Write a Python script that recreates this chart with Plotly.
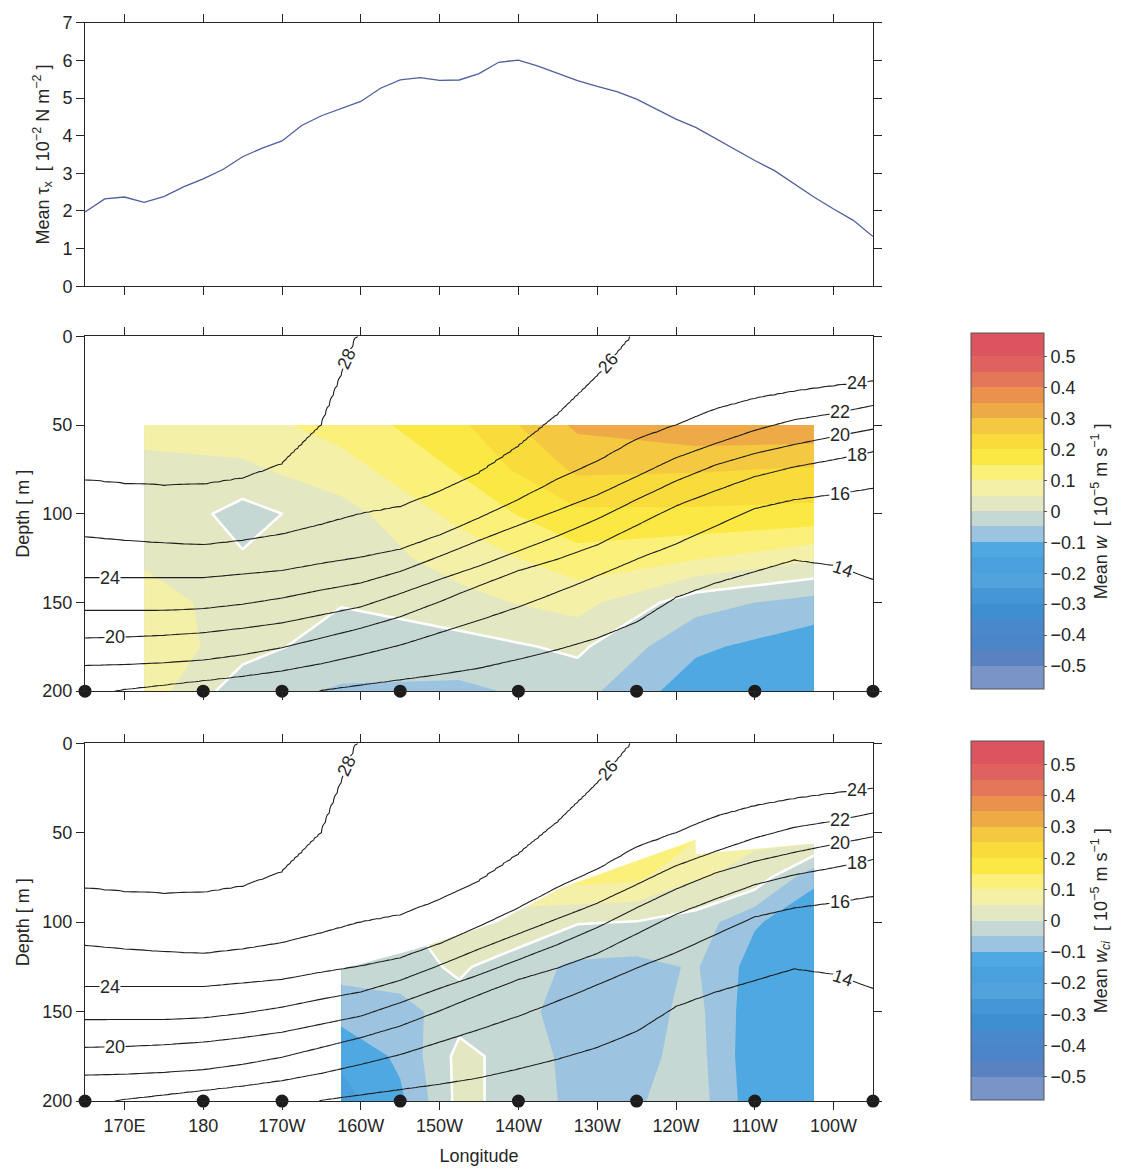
import numpy as np
import plotly.graph_objects as go

FONT = "Liberation Sans, Arial, Helvetica, sans-serif"
INK = "#262626"
nan = np.nan

# ---------------------------------------------------------------------------
# Mean zonal wind stress along the equator (10^-2 N m^-2), every 2.5 degrees
# ---------------------------------------------------------------------------
stress_lon = np.arange(165.0, 265.1, 2.5)
stress_tau = [1.97, 2.32, 2.37, 2.23, 2.38, 2.64, 2.85, 3.10, 3.44, 3.67,
              3.86, 4.27, 4.53, 4.72, 4.91, 5.26, 5.48, 5.54, 5.47, 5.48,
              5.65, 5.95, 6.01, 5.85, 5.66, 5.46, 5.31, 5.17, 4.97, 4.70,
              4.44, 4.22, 3.92, 3.62, 3.34, 3.07, 2.72, 2.37, 2.05, 1.75,
              1.32]

# TAO mooring longitudes (degrees east)
mooring_lon = [165, 180, 190, 205, 220, 235, 250, 265]

# ---------------------------------------------------------------------------
# Mean temperature section: isotherm depths (m) every 5 degrees
# (nan = isotherm absent from the 0-200 m column)
# ---------------------------------------------------------------------------
temp_lon = [165, 170, 175, 180, 185, 190, 195, 200, 205, 210, 215,
            220, 225, 230, 235, 240, 245, 250, 255, 260, 265]
surface_temp = [29.0, 29.0, 29.0, 28.9, 28.8, 28.6, 28.4, 27.9, 27.6, 27.3, 27.0,
                26.8, 26.6, 26.3, 25.9, 25.5, 25.3, 25.1, 24.9, 24.7, 24.5]
temp_200m = [16.3, 15.9, 15.7, 15.5, 15.3, 14.9, 13.95, 13.7, 13.6, 13.5, 13.3,
             13.2, 13.0, 12.8, 12.6, 12.4, 12.3, 12.2, 12.2, 12.2, 12.3]
iso28_depth = [81, 83, 84, 83.5, 80, 72, 50, nan, nan, nan, nan,
               nan, nan, nan, nan, nan, nan, nan, nan, nan, nan]
iso26_depth = [113, 115, 116.5, 117.5, 115, 111.5, 106, 100, 96, 87.5, 77,
               62, 44, 22.5, nan, nan, nan, nan, nan, nan, nan]
iso24_depth = [136, 136, 136, 136, 134, 132, 128, 124.5, 120, 112, 102.5,
               92, 80.5, 70.5, 58, 50, 41, 35, 31, 28, 25.5]
iso22_depth = [154.5, 154.5, 154.5, 153.5, 151, 147.5, 143, 139, 132.5, 124, 115,
               106.5, 98, 89.5, 79, 68.5, 60.5, 53, 47, 43.5, 39]
iso20_depth = [170, 169.5, 168.5, 167, 164.5, 161.5, 157, 152.5, 145, 137, 129.5,
               121, 112.5, 103, 92, 81.5, 72.5, 66, 61, 56.5, 52.3]
iso18_depth = [185.5, 185, 184, 182.5, 179.5, 175.5, 170, 164.5, 158, 149.5, 140.5,
               132, 125.5, 117.5, 106.5, 95.5, 87, 79, 73.5, 69.5, 65]
iso16_depth = [nan, 199, 196.5, 194, 191.5, 188.5, 184.5, 179.5, 174, 167, 160,
               152.5, 144, 135, 125.5, 117, 107, 97, 92, 89, 85.5]
iso14_depth = [nan, nan, nan, nan, nan, nan, 199.5, 196.5, 193.5, 190.5, 187,
               182, 176.5, 170, 161, 147, 139, 132.5, 126, 129, 137]
iso_levels = [28, 26, 24, 22, 20, 18, 16, 14]
iso_depths = [iso28_depth, iso26_depth, iso24_depth, iso22_depth,
              iso20_depth, iso18_depth, iso16_depth, iso14_depth]

# ---------------------------------------------------------------------------
# Mean vertical velocity w (10^-5 m/s) between moorings, rows = depth
# ---------------------------------------------------------------------------
w_lon = [172.5, 185, 197.5, 212.5, 227.5, 242.5, 257.5]
w_depth = [50, 75, 100, 125, 150, 175, 200]
w_mean = [
    [0.075, 0.08, 0.12, 0.19, 0.31, 0.34, 0.34],
    [0.03, 0.04, 0.08, 0.155, 0.26, 0.255, 0.245],
    [0.045, -0.02, 0.03, 0.115, 0.19, 0.19, 0.185],
    [0.04, 0.005, 0.02, 0.07, 0.13, 0.105, 0.06],
    [0.08, 0.02, 0.003, 0.035, 0.07, -0.03, -0.07],
    [0.09, 0.02, -0.025, -0.02, 0.01, -0.09, -0.13],
    [0.08, -0.03, -0.055, -0.06, -0.03, -0.13, -0.148],
]

# Mean w_ci (10^-5 m/s), rows = depth
wci_lon = [197.5, 205, 212.5, 220, 227.5, 235, 242.5, 250, 257.5]
wci_depth = [50, 75, 100, 125, 150, 175, 200]
wci_mean = [
    [-0.03, -0.01, 0.04, 0.08, 0.14, 0.14, 0.11, 0.06, 0.095],
    [-0.03, -0.01, 0.035, 0.07, 0.12, 0.11, 0.055, 0.035, -0.09],
    [-0.03, -0.005, 0.025, 0.04, 0.003, -0.002, -0.02, -0.095, -0.13],
    [-0.03, -0.02, 0.008, -0.03, -0.06, -0.065, -0.045, -0.12, -0.13],
    [-0.08, -0.07, -0.02, -0.035, -0.075, -0.07, -0.035, -0.13, -0.13],
    [-0.14, -0.09, 0.015, -0.02, -0.07, -0.065, -0.03, -0.135, -0.13],
    [-0.17, -0.11, 0.015, -0.02, -0.065, -0.055, -0.025, -0.13, -0.12],
]
# upper limit (m) of the depth range where w_ci is defined
wci_top_lon = [197.5, 207.0, 217.3, 225.3, 242.5, 242.5, 257.5]
wci_top_depth = [128, 115, 100, 81, 54, 62, 56]

# colour table, one colour per 0.05 band from -0.55 to 0.55
band_colors = [
    "#7a94c8", "#5a82c0", "#4c84c8", "#4a88cc", "#3e8ed2", "#4496d6",
    "#52a2dc", "#4aa0dc", "#4ea8e2", "#9cc4e0", "#c5d8d3", "#e3e8c3",
    "#f4f0a8", "#faf07a", "#fce842", "#f9dc3c", "#f4c840", "#eeaa46",
    "#ea924c", "#e4765a", "#e0625e", "#db5460",
]


# ---------------------------------------------------------------------------
# temperature field, interpolated along isotherms between stations
# ---------------------------------------------------------------------------
def station_profile(j):
    zs, ts = [], []
    for lev, dep in zip(iso_levels, iso_depths):
        if np.isfinite(dep[j]):
            zs.append(dep[j])
            ts.append(lev)
    return zs, ts


def extended_depth(j, level):
    """Depth of an isotherm that lies outside 0-200 m at station j."""
    zs, ts = station_profile(j)
    if level > surface_temp[j]:
        z1, t1 = (zs[0], ts[0]) if zs else (200.0, temp_200m[j])
        grad = (surface_temp[j] - t1) / z1
        return -(level - surface_temp[j]) / grad
    z1, t1 = (zs[-1], ts[-1]) if zs else (0.0, surface_temp[j])
    grad = (t1 - temp_200m[j]) / (200.0 - z1)
    return 200.0 + (temp_200m[j] - level) / grad


fine_lon = np.arange(165.0, 265.01, 0.5)
fine_depth = np.arange(0.0, 200.01, 1.0)
temp_grid = np.empty((fine_depth.size, fine_lon.size))
n_st = len(temp_lon)
for i, lon in enumerate(fine_lon):
    j = min(int(np.searchsorted(temp_lon, lon, side="right")) - 1, n_st - 2)
    f = (lon - temp_lon[j]) / (temp_lon[j + 1] - temp_lon[j])
    sst = surface_temp[j] + f * (surface_temp[j + 1] - surface_temp[j])
    t200 = temp_200m[j] + f * (temp_200m[j + 1] - temp_200m[j])
    zs, ts = [], []
    for lev, dep in zip(iso_levels, iso_depths):
        a, b = dep[j], dep[j + 1]
        if not (np.isfinite(a) or np.isfinite(b)):
            continue
        if not np.isfinite(a):
            a = extended_depth(j, lev)
        if not np.isfinite(b):
            b = extended_depth(j + 1, lev)
        d = a + f * (b - a)
        if 0.0 < d < 200.0:
            zs.append(d)
            ts.append(lev)
    top = max(sst, ts[0] + 0.02) if ts else sst
    bot = min(t200, ts[-1] - 0.02) if ts else t200
    temp_grid[:, i] = np.interp(fine_depth, [0.0] + zs + [200.0], [top] + ts + [bot])


def isotherm_depth_at(level, lon):
    col = np.array([np.interp(lon, fine_lon, temp_grid[k, :])
                    for k in range(fine_depth.size)])
    return float(np.interp(level, col[::-1], fine_depth[::-1]))


lev_lo, lev_hi, lev_step = -0.55, 0.55, 0.05
n_slots = len(band_colors) + 1
colorscale = []
for k, c in enumerate(band_colors):
    lo = 0.0 if k == 0 else (k + 0.5) / n_slots
    hi = 1.0 if k == len(band_colors) - 1 else (k + 1.5) / n_slots
    colorscale += [[lo, c], [hi, c]]

cb_ticks = [0.5, 0.4, 0.3, 0.2, 0.1, 0, -0.1, -0.2, -0.3, -0.4, -0.5]
cb_text = ["0.5", "0.4", "0.3", "0.2", "0.1", "0",
           "\u22120.1", "\u22120.2", "\u22120.3", "\u22120.4", "\u22120.5"]

W = 1131
H = 1172
x_dom = [85 / W, 873 / W]
top_dom = [1 - 281 / H, 1 - 13 / H]
mid_dom = [1 - 693 / H, 1 - 332 / H]
bot_dom = [1 - 1110 / H, 1 - 746 / H]


def w_fill(x, y, z, xa, ya, cb_top, cb_bot, title):
    return go.Contour(
        x=x, y=y, z=z, xaxis=xa, yaxis=ya,
        autocontour=False,
        contours=dict(start=lev_lo, end=lev_hi, size=lev_step,
                      coloring="fill", showlines=False),
        colorscale=colorscale,
        line=dict(width=0, smoothing=0),
        hoverinfo="skip",
        colorbar=dict(
            x=971 / W, xanchor="left", xpad=0,
            y=1 - (cb_top + cb_bot) / 2 / H, yanchor="middle",
            len=(cb_bot - cb_top) / H, lenmode="fraction", ypad=0,
            thickness=73, thicknessmode="pixels",
            outlinecolor="#555555", outlinewidth=1,
            tickvals=cb_ticks, ticktext=cb_text,
            ticks="outside", ticklen=3, tickcolor="#555555",
            tickfont=dict(size=18, family=FONT, color=INK),
            title=dict(text=title, side="right",
                       font=dict(size=18, family=FONT, color=INK)),
        ),
    )


def zero_line(x, y, z, xa, ya):
    return go.Contour(
        x=x, y=y, z=z, xaxis=xa, yaxis=ya, autocontour=False,
        contours=dict(start=0, end=0, size=0.05, coloring="none"),
        line=dict(color="white", width=2.5, smoothing=0),
        showscale=False, hoverinfo="skip",
    )


def isotherms(xa, ya):
    return go.Contour(
        x=fine_lon, y=fine_depth, z=temp_grid, xaxis=xa, yaxis=ya,
        autocontour=False,
        contours=dict(start=14, end=28, size=2, coloring="none"),
        line=dict(color="#1e1e1e", width=1.1, smoothing=0),
        showscale=False, hoverinfo="skip",
    )


def moorings(xa, ya):
    return go.Scatter(
        x=mooring_lon, y=[200] * len(mooring_lon), xaxis=xa, yaxis=ya,
        mode="markers", marker=dict(size=13, color="#1c1c1c"),
        cliponaxis=False, hoverinfo="skip",
    )


fig = go.Figure()

# top panel: wind stress
fig.add_trace(go.Scatter(x=stress_lon, y=stress_tau, mode="lines",
                         line=dict(color="#4f5f9f", width=1.3),
                         xaxis="x", yaxis="y", hoverinfo="skip"))

# middle panel: w with isotherms
fig.add_trace(w_fill(w_lon, w_depth, w_mean, "x2", "y2", 329, 691,
                     "Mean <i>w</i>  [ 10<sup>\u22125</sup> m s<sup>\u22121</sup> ]"))
fig.add_trace(zero_line(w_lon, w_depth, w_mean, "x2", "y2"))
fig.add_trace(isotherms("x3", "y3"))
fig.add_trace(moorings("x3", "y3"))

# bottom panel: w_ci with isotherms
fig.add_trace(w_fill(wci_lon, wci_depth, wci_mean, "x4", "y4", 744, 1109,
                     "Mean <i>w<sub>ci</sub></i>  [ 10<sup>\u22125</sup> m s<sup>\u22121</sup> ]"))
fig.add_trace(zero_line(wci_lon, wci_depth, wci_mean, "x4", "y4"))
mask_x = [wci_top_lon[0] - 1.5] + [wci_top_lon[0] - 1.5] + wci_top_lon[1:] + [wci_top_lon[-1] + 1.5] * 2
mask_y = [45] + wci_top_depth + [45]
fig.add_trace(go.Scatter(x=mask_x, y=mask_y, xaxis="x4", yaxis="y4",
                         mode="lines", fill="toself", fillcolor="white",
                         line=dict(width=0, color="white"), hoverinfo="skip"))
fig.add_trace(isotherms("x5", "y5"))
fig.add_trace(moorings("x5", "y5"))

# isotherm labels
label_spec = [
    (28, 198.2, -65), (26, 231.4, -50),
    (24, 168.2, 0), (20, 168.8, 0),
    (24, 263.0, 0), (22, 260.8, 0), (20, 260.8, 0),
    (18, 263.0, 0), (16, 260.8, 0), (14, 261.2, 18),
]
annotations = []
for xr, yr in (("x3", "y3"), ("x5", "y5")):
    for lev, lon, ang in label_spec:
        annotations.append(dict(
            x=lon, y=isotherm_depth_at(lev, lon), xref=xr, yref=yr,
            text=str(lev), showarrow=False, textangle=ang,
            font=dict(size=18, family=FONT, color=INK),
            bgcolor="white", borderpad=0,
        ))

lon_ticks = [170, 180, 190, 200, 210, 220, 230, 240, 250, 260]
lon_text = ["170E", "180", "170W", "160W", "150W", "140W",
            "130W", "120W", "110W", "100W"]


def lon_axis(anchor, labels=False):
    return dict(domain=x_dom, anchor=anchor, range=[165, 265],
                tickvals=lon_ticks, ticktext=lon_text, showticklabels=labels,
                ticks="outside", ticklen=8, tickwidth=1, tickcolor=INK,
                showline=True, linecolor=INK, linewidth=1, mirror="ticks",
                showgrid=False, zeroline=False,
                tickfont=dict(size=18, family=FONT, color=INK))


def depth_axis(dom, anchor):
    return dict(domain=dom, anchor=anchor, range=[200, 0],
                tickvals=[0, 50, 100, 150, 200],
                ticks="outside", ticklen=8, tickwidth=1, tickcolor=INK,
                showline=True, linecolor=INK, linewidth=1, mirror="ticks",
                showgrid=False, zeroline=False,
                tickfont=dict(size=18, family=FONT, color=INK),
                title=dict(text="Depth [ m ]", standoff=8,
                           font=dict(size=18, family=FONT, color=INK)))


def overlay_x(base, anchor):
    return dict(overlaying=base, anchor=anchor, range=[165, 265], visible=False)


def overlay_y(base, anchor):
    return dict(overlaying=base, anchor=anchor, range=[200, 0], visible=False)


bottom_x = lon_axis("y4", labels=True)
bottom_x["title"] = dict(text="Longitude", standoff=14,
                         font=dict(size=18, family=FONT, color=INK))

fig.update_layout(
    width=W, height=H,
    margin=dict(l=0, r=0, t=0, b=0),
    paper_bgcolor="white", plot_bgcolor="white",
    showlegend=False,
    font=dict(family=FONT, size=18, color=INK),
    xaxis=lon_axis("y"),
    yaxis=dict(domain=top_dom, anchor="x", range=[0, 7], dtick=1,
               ticks="outside", ticklen=8, tickwidth=1, tickcolor=INK,
               showline=True, linecolor=INK, linewidth=1, mirror="ticks",
               showgrid=False, zeroline=False,
               tickfont=dict(size=18, family=FONT, color=INK),
               title=dict(text="Mean \u03c4<sub>x</sub>  [ 10<sup>\u22122</sup> N m<sup>\u22122</sup> ]",
                          standoff=8, font=dict(size=18, family=FONT, color=INK))),
    xaxis2=lon_axis("y2"),
    yaxis2=depth_axis(mid_dom, "x2"),
    xaxis3=overlay_x("x2", "y3"),
    yaxis3=overlay_y("y2", "x3"),
    xaxis4=bottom_x,
    yaxis4=depth_axis(bot_dom, "x4"),
    xaxis5=overlay_x("x4", "y5"),
    yaxis5=overlay_y("y4", "x5"),
    annotations=annotations,
)

fig.write_html("out.html")
